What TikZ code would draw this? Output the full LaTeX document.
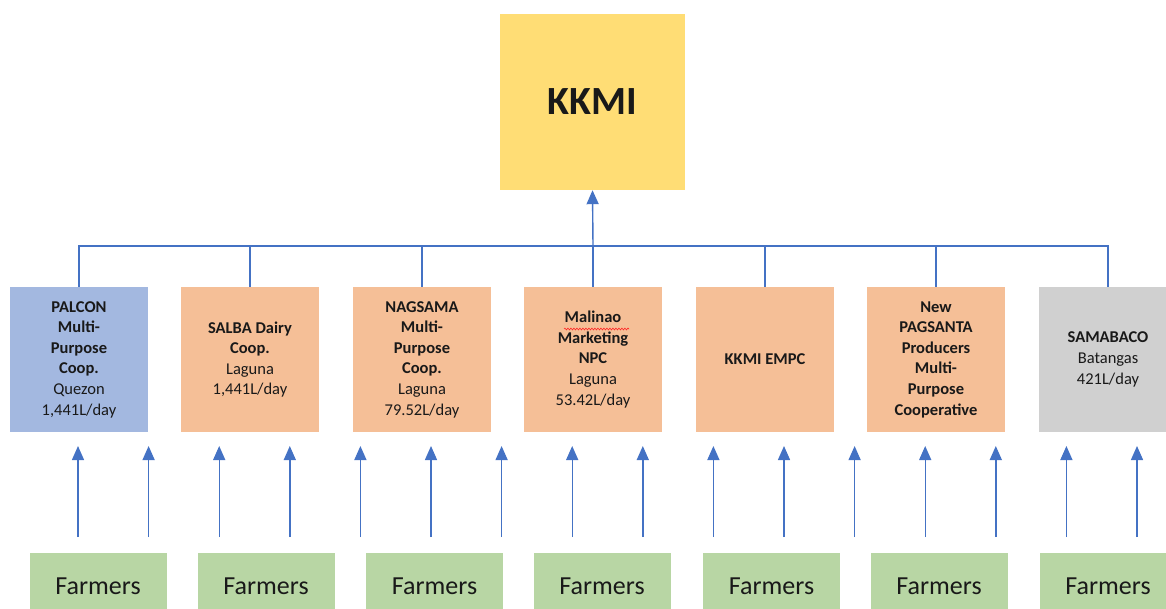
\documentclass[tikz,border=0pt]{standalone}
\usepackage{fontspec}
\setmainfont{Carlito}
\usetikzlibrary{arrows.meta,decorations.pathmorphing}
\definecolor{kkmiyel}{HTML}{FFDD75}
\definecolor{palblue}{HTML}{A3B8E0}
\definecolor{coopor}{HTML}{F5BF97}
\definecolor{coopgray}{HTML}{D0D0D0}
\definecolor{farmgreen}{HTML}{B8D6A4}
\definecolor{lnblue}{HTML}{4472C4}
\begin{document}
\begin{tikzpicture}[x=1pt,y=-1pt,
  coop/.style={minimum width=138pt,minimum height=145pt,inner sep=0pt,align=center,
    font=\fontsize{16.5}{20.6}\selectfont,text=black!90},
  farm/.style={fill=farmgreen,minimum width=137pt,minimum height=67pt,inner sep=0pt,
    font=\fontsize{26}{30}\selectfont,text=black!90},
  link/.style={draw=lnblue,line width=1.4pt},
  uparrow/.style={link,-{Triangle[width=12pt,length=14pt]}}]
\useasboundingbox (0,0) rectangle (1166,608);
\clip (0,0) rectangle (1166,608);
% top
\node[fill=kkmiyel,minimum width=185pt,minimum height=176pt,inner sep=0pt,
  font=\fontsize{40}{48}\selectfont\bfseries,text=black!90] (kkmi) at (592.5,102) {KKMI};
% cooperatives
\node[coop,fill=palblue] (c1) at (79,359.5) {\textbf{PALCON}\\\textbf{Multi-}\\\textbf{Purpose}\\\textbf{Coop.}\\Quezon\\1,441L/day};
\node[coop,fill=coopor] (c2) at (250,359.5) {\textbf{SALBA Dairy}\\\textbf{Coop.}\\Laguna\\1,441L/day};
\node[coop,fill=coopor] (c3) at (422,359.5) {\textbf{NAGSAMA}\\\textbf{Multi-}\\\textbf{Purpose}\\\textbf{Coop.}\\Laguna\\79.52L/day};
\node[coop,fill=coopor] (c4) at (593,359.5) {\textbf{Malinao}\\\textbf{Marketing}\\\textbf{NPC}\\Laguna\\53.42L/day};
\node[coop,fill=coopor] (c5) at (765,359.5) {\textbf{KKMI EMPC}};
\node[coop,fill=coopor] (c6) at (936,359.5) {\textbf{New}\\\textbf{PAGSANTA}\\\textbf{Producers}\\\textbf{Multi-}\\\textbf{Purpose}\\\textbf{Cooperative}};
\node[coop,fill=coopgray] (c7) at (1108,359.5) {\textbf{SAMABACO}\\Batangas\\421L/day};
% spell-check squiggle
\draw[red!85,line width=0.6pt,decorate,decoration={snake,amplitude=0.9pt,segment length=3pt}]
  (564,329) -- (629,329);
% farmers
\node[farm] (f1) at (98,586.5) {Farmers};
\node[farm] (f2) at (266,586.5) {Farmers};
\node[farm] (f3) at (434.5,586.5) {Farmers};
\node[farm] (f4) at (602,586.5) {Farmers};
\node[farm] (f5) at (771.5,586.5) {Farmers};
\node[farm] (f6) at (939,586.5) {Farmers};
\node[farm] (f7) at (1108,586.5) {Farmers};
% bus
\coordinate (bus) at (593,246);
\foreach \c in {c1,c2,c3,c4,c5,c6,c7} {\draw[link] (\c.north) |- (bus);}
\draw[uparrow] (bus) -- (kkmi.south);
% farmer arrows
\foreach \i in {0,...,15} {
  \coordinate (a\i s) at ({78+70.6*\i},537);
  \coordinate (a\i e) at ({78+70.6*\i},446);
  \draw[uparrow] (a\i s) -- (a\i e);
}
\end{tikzpicture}
\end{document}
